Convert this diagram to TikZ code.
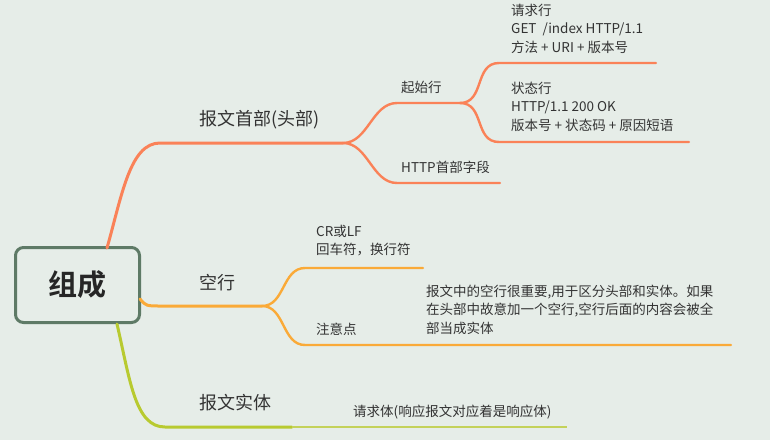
\documentclass[tikz,border=0pt]{standalone}
\usepackage{fontspec}
\setmainfont{Noto Sans CJK SC}
\newfontfamily\cjkb{Noto Sans CJK SC}[BoldFont={* Bold}]
\definecolor{bg}{RGB}{230,237,232}
\definecolor{txt}{RGB}{51,51,51}
\definecolor{rootc}{RGB}{94,122,102}
\definecolor{ora}{RGB}{250,130,88}
\definecolor{yel}{RGB}{250,170,56}
\definecolor{grn}{RGB}{184,202,48}
\definecolor{grnl}{RGB}{196,210,90}
\tikzset{
  big/.style={anchor=west,inner sep=0pt,text=txt,font=\fontsize{18}{22}\selectfont},
  small/.style={anchor=west,inner sep=0pt,text=txt,font=\fontsize{13.5}{18.3}\selectfont,align=left},
  mainline/.style={line width=3pt,line cap=round},
  subline/.style={line width=2.4pt,line cap=round},
}
\begin{document}
\begin{tikzpicture}[x=1pt,y=-1pt]
\path[fill=bg] (0,0) rectangle (770,440);
\useasboundingbox (0,0) rectangle (770,440);
% root
\node[draw=rootc,line width=3pt,rounded corners=8pt,fill=bg,minimum width=124pt,minimum height=75pt,inner sep=0pt,
  font=\cjkb\bfseries\fontsize{29}{34}\selectfont,text=black!85] (root) at (77.5,285) {组成};
% coordinates
\coordinate (r1) at (107,248);
\coordinate (j1) at (343,143);
\coordinate (a1) at (397,103);
\coordinate (j2) at (460,103);
\coordinate (b1) at (499,63);
\coordinate (b1e) at (656,63);
\coordinate (b2) at (499,142);
\coordinate (b2e) at (689,142);
\coordinate (a2) at (397,183);
\coordinate (a2e) at (500,183);
\coordinate (r2) at (140,299);
\coordinate (j3) at (262,306);
\coordinate (c1) at (305,268);
\coordinate (c1e) at (423,268);
\coordinate (c2) at (305,345);
\coordinate (c2e) at (731,345);
\coordinate (r3) at (117,324);
\coordinate (j4) at (292,427);
\coordinate (d1e) at (567,427);
% texts
\node[big] (t1) at (199,120) {报文首部(头部)};
\node[big] (t2) at (199,283) {空行};
\node[big] (t3) at (199,403) {报文实体};
\node[small] (s1) at (401,87) {起始行};
\node[small] (s2) at (401,167) {HTTP首部字段};
\node[small,anchor=north west] (q1) at (511,4) {请求行\\GET\ \ /index HTTP/1.1\\方法 + URI + 版本号};
\node[small,anchor=north west] (q2) at (511,82) {状态行\\HTTP/1.1 200 OK\\版本号 + 状态码 + 原因短语};
\node[small,anchor=north west] (k1) at (316,225) {CR或LF\\回车符，换行符};
\node[small] (k2) at (316,329) {注意点};
\node[small,anchor=north west] (k3) at (426,285) {报文中的空行很重要,用于区分头部和实体。如果\\在头部中故意加一个空行,空行后面的内容会被全\\部当成实体};
\node[small] (e1) at (353,412) {请求体(响应报文对应着是响应体)};
% branch 1
\draw[ora,mainline] (r1) .. controls (122,195) and (130,143) .. (160,143) -- (j1);
\draw[ora,subline] (j1) .. controls (368,143) and (372,103) .. (a1) -- (j2);
\draw[ora,subline] (j1) .. controls (368,143) and (372,183) .. (a2) -- (a2e);
\draw[ora,subline] (j2) .. controls (485,103) and (474,63) .. (b1) -- (b1e);
\draw[ora,subline] (j2) .. controls (485,103) and (474,142) .. (b2) -- (b2e);
% branch 2
\draw[yel,mainline] (r2) .. controls (146,306) .. (162,306) -- (j3);
\draw[yel,subline] (j3) .. controls (285,306) and (282,268) .. (c1) -- (c1e);
\draw[yel,subline] (j3) .. controls (285,306) and (282,345) .. (c2) -- (c2e);
% branch 3
\draw[grn,mainline] (r3) .. controls (130,380) and (135,427) .. (165,427) -- (j4);
\draw[grnl,line width=1.6pt] (j4) -- (d1e);
\end{tikzpicture}
\end{document}
